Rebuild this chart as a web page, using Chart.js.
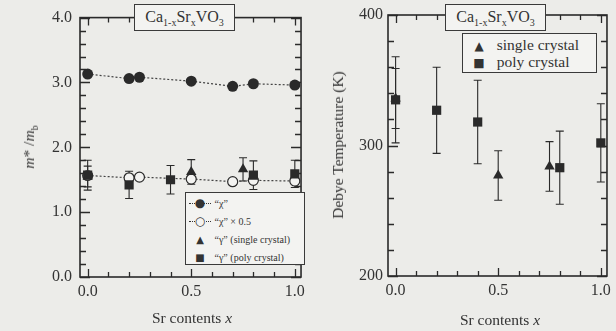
<!DOCTYPE html>
<html lang="en">
<head>
<meta charset="UTF-8" />
<title>Ca1-xSrxVO3</title>
<script src="https://cdn.jsdelivr.net/npm/chart.js@4.4.1/dist/chart.umd.min.js"></script>
<style>
  body { margin: 0; background: #ecece9; }
  #wrap { position: relative; width: 616px; height: 331px; font-family: "Liberation Serif", serif; color: #333; }
  canvas { position: absolute; top: 0; }
  .box { position: absolute; border: 1.5px solid #3a3a3a; background: #f3f3f1; box-sizing: border-box; }
  .title { font-size: 16px; text-align: center; line-height: 23px; }
  .title sub { font-size: 10px; }
  .lbl { position: absolute; white-space: nowrap; font-size: 15.5px; transform: translate(-50%, -50%); }
  .rot { transform: translate(-50%, -50%) rotate(-90deg); }
  .row { display: flex; align-items: center; height: 18px; }
  .sym { position: relative; width: 24px; text-align: center; font-family: "DejaVu Sans"; }
  .sym.dot::before { content: ""; position: absolute; left: 1px; right: 1px; top: 50%; border-top: 1px dotted #333; }
  .sym span { position: relative; }
</style>
</head>
<body>
<div id="wrap">
  <canvas id="left" width="310" height="331" style="left:0"></canvas>
  <canvas id="right" width="306" height="331" style="left:310px"></canvas>

  <div class="box title" style="left:134px;top:4px;width:101px;height:27px">Ca<sub>1-x</sub>Sr<sub>x</sub>VO<sub>3</sub></div>
  <div class="box title" style="left:445px;top:4px;width:101px;height:27px">Ca<sub>1-x</sub>Sr<sub>x</sub>VO<sub>3</sub></div>

  <div class="box" style="left:185px;top:192px;width:120px;height:73px;font-size:10px;padding:1px 0 0 2px">
    <div class="row"><div class="sym dot"><span style="font-size:12px">●</span></div>&nbsp;“χ”</div>
    <div class="row"><div class="sym dot"><span style="font-size:12px;background:#f3f3f1">○</span></div>&nbsp;“χ” × 0.5</div>
    <div class="row"><div class="sym"><span style="font-size:10px">▲</span></div>&nbsp;“γ” (single crystal)</div>
    <div class="row"><div class="sym"><span style="font-size:10px">■</span></div>&nbsp;“γ” (poly crystal)</div>
  </div>

  <div class="box" style="left:462px;top:33px;width:135px;height:40px;font-size:15.5px;padding:2px 0 0 6px">
    <div class="row" style="height:17px"><div class="sym" style="width:20px"><span style="font-size:12px">▲</span></div>&nbsp;&nbsp;single crystal</div>
    <div class="row" style="height:17px"><div class="sym" style="width:20px"><span style="font-size:12px">■</span></div>&nbsp;&nbsp;poly crystal</div>
  </div>

  <div class="lbl" style="left:192px;top:318px">Sr contents <i>x</i></div>
  <div class="lbl" style="left:500px;top:320px">Sr contents <i>x</i></div>
  <div class="lbl rot" style="left:30px;top:147px"><i>m</i>* /<i>m</i><sub style="font-size:10px">b</sub></div>
  <div class="lbl rot" style="left:338px;top:145px">Debye Temperature (K)</div>
</div>

<script>
  // values
  const xChi = [0, 0.2, 0.25, 0.5, 0.7, 0.8, 1.0];
  const chiMass = [3.13, 3.06, 3.08, 3.02, 2.94, 2.98, 2.96];
  const chiHalf = [1.565, 1.53, 1.54, 1.51, 1.47, 1.49, 1.48];

  const xSingle = [0, 0.5, 0.75];
  const gammaSingle = [1.55, 1.62, 1.66];
  const gammaSingleErr = [0.16, 0.19, 0.18];
  const debyeSingle = [336, 277, 284];
  const debyeSingleErr = [23, 19, 19];

  const xPoly = [0, 0.2, 0.4, 0.8, 1.0];
  const gammaPoly = [1.57, 1.42, 1.50, 1.57, 1.59];
  const gammaPolyErr = [0.23, 0.21, 0.22, 0.22, 0.21];
  const debyePoly = [335, 327, 318, 283, 302];
  const debyePolyErr = [33, 33, 32, 28, 30];

  // tick marks and labels
  const xTicks = [0, 0.1, 0.2, 0.3, 0.4, 0.5, 0.6, 0.7, 0.8, 0.9, 1.0];
  const xLabels = [0, 0.5, 1.0];
  const massTicks = [0, 0.2, 0.4, 0.6, 0.8, 1, 1.2, 1.4, 1.6, 1.8, 2, 2.2, 2.4, 2.6, 2.8, 3, 3.2, 3.4, 3.6, 3.8, 4];
  const massLabels = [0, 1, 2, 3, 4];
  const debyeTicks = [200, 220, 240, 260, 280, 300, 320, 340, 360, 380, 400];
  const debyeLabels = [200, 300, 400];

  const ink = "#2a2a2a";
  const pts = (xs, ys) => xs.map((x, i) => ({ x: x, y: ys[i] }));
  const has = (arr, v) => arr.some((t) => Math.abs(t - v) < 1e-6);
  const axes = {
    left: { yTicks: massTicks, yLabels: massLabels },
    right: { yTicks: debyeTicks, yLabels: debyeLabels }
  };

  // frame, inward ticks and error bars, drawn under the markers
  const framePlugin = {
    id: "frame",
    beforeDatasetsDraw(chart) {
      const ctx = chart.ctx, a = chart.chartArea;
      const xs = chart.scales.x, ys = chart.scales.y;
      const ax = axes[chart.canvas.id];
      ctx.save();
      ctx.setLineDash([]);
      ctx.strokeStyle = ink;

      ctx.lineWidth = 1.3;
      ctx.beginPath();
      xTicks.forEach((v) => {
        const px = Math.round(xs.getPixelForValue(v)) + 0.5;
        const len = has(xLabels, v) ? 8 : 5;
        ctx.moveTo(px, a.bottom);
        ctx.lineTo(px, a.bottom - len);
        ctx.moveTo(px, a.top);
        ctx.lineTo(px, a.top + len);
      });
      ax.yTicks.forEach((v) => {
        const py = Math.round(ys.getPixelForValue(v)) + 0.5;
        const len = has(ax.yLabels, v) ? 10 : 6;
        ctx.moveTo(a.left, py);
        ctx.lineTo(a.left + len, py);
        ctx.moveTo(a.right, py);
        ctx.lineTo(a.right - len, py);
      });
      ctx.stroke();

      ctx.lineWidth = 1.6;
      ctx.strokeRect(a.left, a.top, a.right - a.left, a.bottom - a.top);

      ctx.lineWidth = 1.1;
      chart.data.datasets.forEach((ds) => {
        if (!ds.errors) return;
        ds.data.forEach((p, i) => {
          const px = xs.getPixelForValue(p.x);
          const t = ys.getPixelForValue(p.y + ds.errors[i]);
          const b = ys.getPixelForValue(p.y - ds.errors[i]);
          ctx.beginPath();
          ctx.moveTo(px, t); ctx.lineTo(px, b);
          ctx.moveTo(px - 4, t); ctx.lineTo(px + 4, t);
          ctx.moveTo(px - 4, b); ctx.lineTo(px + 4, b);
          ctx.stroke();
        });
      });
      ctx.restore();
    }
  };

  function makeChart(id, datasets, y, pad) {
    return new Chart(document.getElementById(id), {
      type: "scatter",
      data: { datasets: datasets },
      plugins: [framePlugin],
      options: {
        responsive: false,
        animation: false,
        layout: { padding: { top: 15, right: pad.right, left: 0, bottom: 0 } },
        plugins: {
          legend: { display: false },
          tooltip: { enabled: false }
        },
        scales: {
          x: {
            type: "linear",
            min: -0.037,
            max: 1.03,
            grid: { display: false, drawTicks: false },
            border: { display: false },
            afterBuildTicks: (s) => { s.ticks = xTicks.map((v) => ({ value: v })); },
            afterFit: (s) => { s.height = pad.xHeight; },
            ticks: {
              autoSkip: false,
              maxRotation: 0,
              padding: 5,
              color: "#333",
              font: { family: "Liberation Serif", size: 16 },
              callback: (v) => (has(xLabels, v) ? v.toFixed(1) : "")
            }
          },
          y: {
            min: y.min,
            max: y.max,
            grid: { display: false, drawTicks: false },
            border: { display: false },
            afterBuildTicks: (s) => { s.ticks = y.ticks.map((v) => ({ value: v })); },
            afterFit: (s) => { s.width = pad.yWidth; },
            ticks: {
              autoSkip: false,
              padding: pad.yPad,
              color: "#333",
              font: { family: "Liberation Serif", size: 16 },
              callback: (v) => (has(y.labels, v) ? y.fmt(v) : "")
            }
          }
        }
      }
    });
  }

  makeChart("left", [
    {
      data: pts(xPoly, gammaPoly), errors: gammaPolyErr,
      pointStyle: "rect", pointRadius: 6.5, backgroundColor: ink, borderColor: ink, borderWidth: 0, order: 1
    },
    {
      data: pts(xSingle, gammaSingle), errors: gammaSingleErr,
      pointStyle: "triangle", pointRadius: 6, backgroundColor: ink, borderColor: ink, borderWidth: 0, order: 2
    },
    {
      data: pts(xChi, chiHalf), showLine: true,
      borderColor: "#444", borderWidth: 1.2, borderDash: [2, 2],
      pointStyle: "circle", pointRadius: 5, pointBackgroundColor: "#f3f3f1",
      pointBorderColor: ink, pointBorderWidth: 1.2, order: 3
    },
    {
      data: pts(xChi, chiMass), showLine: true,
      borderColor: "#444", borderWidth: 1.2, borderDash: [2, 2],
      pointStyle: "circle", pointRadius: 5.5, pointBackgroundColor: ink,
      pointBorderColor: ink, pointBorderWidth: 0, order: 4
    }
  ], { min: 0, max: 4, ticks: massTicks, labels: massLabels, fmt: (v) => v.toFixed(1) },
  { right: 2, xHeight: 54, yWidth: 80, yPad: 8 });

  makeChart("right", [
    {
      data: pts(xPoly, debyePoly), errors: debyePolyErr,
      pointStyle: "rect", pointRadius: 6.5, backgroundColor: ink, borderColor: ink, borderWidth: 0, order: 1
    },
    {
      data: pts(xSingle, debyeSingle), errors: debyeSingleErr,
      pointStyle: "triangle", pointRadius: 6, backgroundColor: ink, borderColor: ink, borderWidth: 0, order: 2
    }
  ], { min: 200, max: 400, ticks: debyeTicks, labels: debyeLabels, fmt: (v) => String(v) },
  { right: 1, xHeight: 55, yWidth: 78, yPad: 5 });
</script>
</body>
</html>
